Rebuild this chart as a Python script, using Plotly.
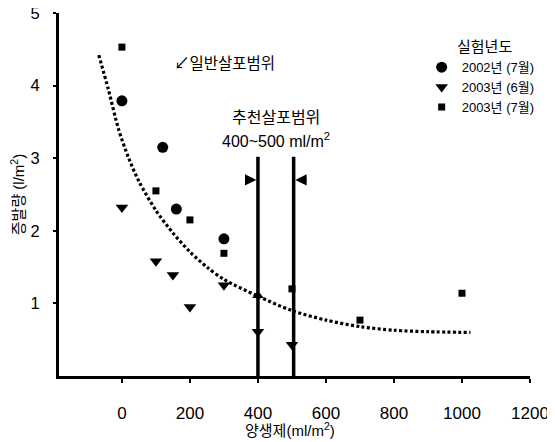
import plotly.graph_objects as go

# ---- data ----
c2002_jul_x = [0, 120, 160, 300]
c2002_jul_y = [3.79, 3.15, 2.30, 1.89]

t2003_jun_x = [0, 100, 150, 200, 300, 400, 500]
t2003_jun_y = [2.32, 1.58, 1.39, 0.95, 1.25, 0.61, 0.43]

s2003_jul_x = [0, 100, 200, 300, 500, 700, 1000]
s2003_jul_y = [4.53, 2.55, 2.15, 1.69, 1.20, 0.77, 1.14]

mark_x = [400]
mark_y = [1.11]

trend_x = [-68, -40, -10, 20, 50, 100, 150, 200, 250, 300, 400, 500, 600, 700, 800, 900, 1025]
trend_y = [4.42, 3.95, 3.40, 3.00, 2.68, 2.28, 1.97, 1.71, 1.50, 1.33, 1.10, 0.90, 0.77, 0.68, 0.63, 0.61, 0.60]

range_x = [400, 505]
range_top = 3.02
arrow_y = 2.70

x_ticks = [0, 200, 400, 600, 800, 1000, 1200]
y_ticks = [1, 2, 3, 4, 5]

FONT = "Liberation Sans, Arial, Noto Sans CJK KR"

fig = go.Figure()

fig.add_trace(go.Scatter(x=trend_x, y=trend_y, mode="lines",
                         line=dict(color="black", width=3.2, dash="3px,2.4px", shape="spline", smoothing=0.8),
                         showlegend=False, hoverinfo="skip"))

for xv in range_x:
    fig.add_trace(go.Scatter(x=[xv, xv], y=[0, range_top], mode="lines", line=dict(color="black", width=3.5),
                             showlegend=False, hoverinfo="skip"))

fig.add_trace(go.Scatter(x=c2002_jul_x, y=c2002_jul_y, mode="markers", name="2002년 (7월)",
                         marker=dict(symbol="circle", size=11, color="black")))
fig.add_trace(go.Scatter(x=t2003_jun_x, y=t2003_jun_y, mode="markers", name="2003년 (6월)",
                         marker=dict(symbol="triangle-down", size=11, color="black")))
fig.add_trace(go.Scatter(x=s2003_jul_x, y=s2003_jul_y, mode="markers", name="2003년 (7월)",
                         marker=dict(symbol="square", size=7, color="black")))
fig.add_trace(go.Scatter(x=mark_x, y=mark_y, mode="markers", showlegend=False,
                         marker=dict(symbol="triangle-up", size=10, color="black")))

# arrows pointing at the recommended range lines
fig.add_annotation(x=range_x[0] - 5, y=arrow_y, ax=range_x[0] - 42, ay=arrow_y, axref="x", ayref="y",
                   showarrow=True, arrowhead=2, arrowsize=0.9, arrowwidth=2.5, arrowcolor="black", text="")
fig.add_annotation(x=range_x[1] + 5, y=arrow_y, ax=range_x[1] + 42, ay=arrow_y, axref="x", ayref="y",
                   showarrow=True, arrowhead=2, arrowsize=0.9, arrowwidth=2.5, arrowcolor="black", text="")

mid_x = (range_x[0] + range_x[1]) / 2
fig.add_annotation(x=mid_x, y=range_top, yshift=29, yanchor="bottom", showarrow=False,
                   text="추천살포범위", font=dict(size=16, color="black", family=FONT))
fig.add_annotation(x=mid_x, y=range_top, yshift=5, yanchor="bottom", showarrow=False,
                   text="400~500 ml/m<sup>2</sup>", font=dict(size=16, color="black", family=FONT))

fig.add_annotation(xref="paper", yref="paper", x=0.24, y=0.86, xanchor="left", yanchor="middle", showarrow=False,
                   text="↙일반살포범위", font=dict(size=15.5, color="black", family=FONT))

fig.add_annotation(xref="paper", yref="paper", x=0.841, y=0.907, xanchor="left", yanchor="middle", showarrow=False,
                   text="실험년도", font=dict(size=15, color="black", family=FONT))

# x-axis title
fig.add_annotation(xref="paper", yref="paper", x=0.49, y=-0.148, xanchor="center", yanchor="middle", showarrow=False,
                   text="양생제(ml/m<sup>2</sup>)", font=dict(size=15, color="black", family=FONT))

fig.update_layout(
    width=547, height=434,
    margin=dict(l=51, r=25, t=5, b=66),
    paper_bgcolor="white", plot_bgcolor="white",
    font=dict(family=FONT, color="black", size=16),
    showlegend=True,
    legend=dict(x=0.77, y=0.892, xanchor="left", yanchor="top", bgcolor="rgba(0,0,0,0)",
                font=dict(size=13, family=FONT, color="black"), itemwidth=30, tracegroupgap=0),
    xaxis=dict(range=[-185, 1200], tickvals=x_ticks, showgrid=False, zeroline=False, automargin=False,
               showline=True, linecolor="black", linewidth=3, ticks="outside", ticklen=4, tickwidth=2,
               tickcolor="black", ticklabelstandoff=16, tickfont=dict(size=17, color="black")),
    yaxis=dict(range=[0, 5], tickvals=y_ticks, showgrid=False, zeroline=False, automargin=False,
               showline=True, linecolor="black", linewidth=3, ticks="outside", ticklen=3, tickwidth=2,
               tickcolor="black", ticklabelstandoff=10, tickfont=dict(size=16.5, color="black"),
               ticklabeloverflow="allow",
               title=dict(text="증발량 (l/m<sup>2</sup>)", font=dict(size=15, color="black"), standoff=6)),
)

fig.write_html("out.html")
